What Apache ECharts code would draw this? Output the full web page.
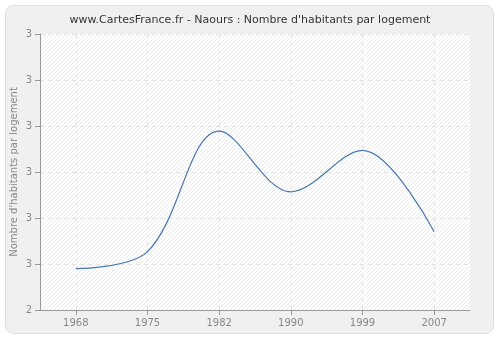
<!DOCTYPE html>
<html><head><meta charset="utf-8">
<script src="https://cdn.jsdelivr.net/npm/echarts@6/dist/echarts.min.js"></script>
<style>html,body{margin:0;padding:0;background:#fff;}#c{width:500px;height:340px;}</style>
</head><body><div id="c"></div>
<script>
const years = ['1968','1975','1982','1990','1999','2007'];
const values = [2.49, 2.527, 2.789, 2.657, 2.747, 2.57];
const yMin = 2.4, yMax = 3.0, yStep = 0.1;
const yName = "Nombre d'habitants par logement";

function hatch() {
  const s = 4, cv = document.createElement('canvas');
  cv.width = s; cv.height = s;
  const g = cv.getContext('2d');
  g.fillStyle = '#ffffff'; g.fillRect(0, 0, s, s);
  g.strokeStyle = '#ebebeb'; g.lineWidth = 1;
  g.beginPath();
  for (let k = -1; k <= 1; k++) { g.moveTo(k * s, s); g.lineTo(k * s + s, 0); }
  g.stroke();
  return cv;
}

const chart = echarts.init(document.getElementById('c'), null, {renderer: 'canvas'});
const idx = years.map((_, i) => i);
chart.setOption({
  animation: false,
  backgroundColor: '#ffffff',
  graphic: [
    {type: 'rect', z: -10, shape: {x: 5.5, y: 5.5, width: 488, height: 328, r: 8},
      style: {fill: '#f0f0f0', stroke: '#dedede', lineWidth: 1}},
    {type: 'text', x: 14, y: 172, rotation: Math.PI / 2, z: 10,
      style: {text: yName, fill: '#888', font: '10px "DejaVu Sans"', align: 'center', verticalAlign: 'middle'}}
  ],
  title: {text: "www.CartesFrance.fr - Naours : Nombre d'habitants par logement", left: 'center', top: 10,
    textStyle: {fontFamily: 'DejaVu Sans', fontSize: 11, fontWeight: 'normal', color: '#333'}},
  grid: {left: 40, right: 30, top: 34, bottom: 30, show: true, borderWidth: 0, outerBoundsMode: 'none', containLabel: false,
    backgroundColor: {image: hatch(), repeat: 'repeat'}},
  xAxis: {type: 'value', min: -0.5, max: 5.5,
    axisLine: {show: true, onZero: false, lineStyle: {color: '#999'}},
    axisTick: {show: true, length: 5, lineStyle: {color: '#999'}, customValues: idx},
    axisLabel: {customValues: idx, formatter: v => years[Math.round(v)], color: '#888', fontFamily: 'DejaVu Sans', fontSize: 10, margin: 8},
    splitLine: {show: true, lineStyle: {color: '#e2e2e2', type: [4, 4]}}},
  yAxis: {type: 'value', min: yMin, max: yMax, interval: yStep,
    axisLine: {show: true, onZero: false, lineStyle: {color: '#999'}},
    axisTick: {show: true, length: 5, lineStyle: {color: '#999'}},
    axisLabel: {formatter: v => String(Math.round(v)), color: '#888', fontFamily: 'DejaVu Sans', fontSize: 10, margin: 8},
    splitLine: {show: true, lineStyle: {color: '#e2e2e2', type: [4, 4]}}},
  series: [{type: 'line', data: idx.map(i => [i, values[i]]), smooth: 0.35, showSymbol: false,
    lineStyle: {color: '#4a77b0', width: 1.2}, itemStyle: {color: '#4a77b0'}}]
});
</script></body></html>
